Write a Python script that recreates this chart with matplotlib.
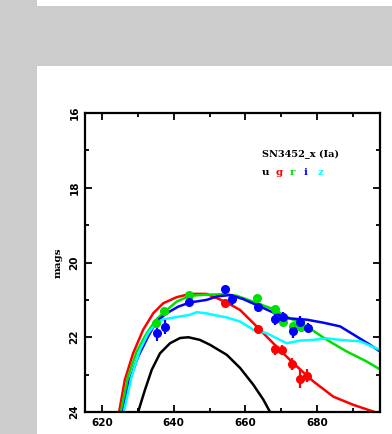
import matplotlib
matplotlib.use("Agg")
import matplotlib.pyplot as plt
from matplotlib.patches import Rectangle
from matplotlib.ticker import MultipleLocator

# model light curves (days, mags)
u_days = [630.1, 632.0, 633.9, 636.2, 639.0, 641.8, 644.1, 647.3, 650.1, 654.8, 658.5, 662.2,
          665.0, 666.8]
u_mags = [24.0, 23.41, 22.87, 22.43, 22.16, 22.02, 22.00, 22.07, 22.20, 22.47, 22.82, 23.27,
          23.67, 23.99]

g_days = [624.8, 626.4, 628.7, 631.5, 634.3, 637.1, 640.8, 644.5, 649.2, 651.0, 654.8, 658.5,
          662.2, 665.9, 669.6, 673.3, 678.9, 684.5, 690.1, 695.7]
g_mags = [24.0, 23.14, 22.43, 21.80, 21.36, 21.09, 20.93, 20.84, 20.84, 20.91, 21.07, 21.27,
          21.62, 21.98, 22.34, 22.69, 23.18, 23.59, 23.81, 23.99]

r_days = [625.3, 627.3, 629.7, 632.5, 635.2, 637.6, 640.8, 644.5, 649.2, 653.8, 657.6, 662.2,
          667.8, 671.5, 677.1, 682.7, 688.2, 693.8, 697.5]
r_mags = [24.0, 23.05, 22.38, 21.89, 21.52, 21.31, 21.05, 20.89, 20.86, 20.85, 20.89, 21.05,
          21.25, 21.45, 21.71, 22.07, 22.38, 22.65, 22.86]

i_days = [625.9, 627.8, 630.1, 632.9, 635.2, 638.0, 641.3, 644.5, 649.2, 652.0, 655.7, 659.4,
          664.1, 667.8, 671.5, 677.1, 681.7, 686.4, 691.0, 694.7, 697.5]
i_mags = [24.0, 23.14, 22.52, 21.98, 21.58, 21.36, 21.18, 21.07, 21.00, 20.91, 20.87, 20.98,
          21.18, 21.34, 21.49, 21.53, 21.61, 21.71, 21.98, 22.20, 22.38]

z_days = [626.1, 628.3, 630.6, 632.9, 635.2, 637.1, 640.8, 644.5, 646.4, 649.2, 651.0, 654.8,
          658.5, 662.2, 665.9, 669.6, 671.5, 675.2, 678.9, 682.7, 686.4, 692.0, 697.5]
z_mags = [24.0, 23.05, 22.34, 21.89, 21.61, 21.52, 21.46, 21.40, 21.33, 21.36, 21.40, 21.47,
          21.58, 21.80, 21.89, 22.07, 22.16, 22.09, 22.07, 22.03, 22.07, 22.11, 22.34]

# observed photometry
g_obs_days = [654.3, 663.4, 668.2, 670.3, 673.1, 675.2, 677.2]
g_obs_mags = [21.09, 21.79, 22.32, 22.34, 22.72, 23.12, 23.03]
g_obs_err = [0.08, 0.10, 0.15, 0.12, 0.16, 0.25, 0.18]

r_obs_days = [635.1, 637.3, 644.3, 663.3, 668.2, 670.4, 673.3, 675.4]
r_obs_mags = [21.63, 21.31, 20.87, 20.95, 21.25, 21.60, 21.71, 21.73]
r_obs_err = [0.08, 0.08, 0.05, 0.06, 0.08, 0.10, 0.12, 0.12]

i_obs_days = [635.4, 637.6, 644.3, 654.4, 656.4, 663.4, 668.2, 670.6, 673.3, 675.2, 677.4]
i_obs_mags = [21.89, 21.73, 21.06, 20.71, 20.98, 21.20, 21.52, 21.45, 21.83, 21.58, 21.74]
i_obs_err = [0.20, 0.18, 0.06, 0.06, 0.15, 0.08, 0.15, 0.12, 0.18, 0.15, 0.12]

band_names = ["u", "g", "r", "i", "z"]
band_colors = ["black", "red", "#00e000", "blue", "cyan"]

fig = plt.figure(figsize=(3.92, 4.34), dpi=100)
fig.patch.set_facecolor("#cccccc")
fig.add_artist(Rectangle((37 / 392, 0), 1, 368 / 434, transform=fig.transFigure,
                         facecolor="white", edgecolor="none", zorder=0))
fig.add_artist(Rectangle((37 / 392, 428 / 434), 1, 6 / 434, transform=fig.transFigure,
                         facecolor="white", edgecolor="none", zorder=0))

ax = fig.add_axes([85 / 392, 22 / 434, 295 / 392, 299 / 434])
ax.set_facecolor("white")

models = [(u_days, u_mags), (g_days, g_mags), (r_days, r_mags), (i_days, i_mags), (z_days, z_mags)]
for (d, m), c in zip(models, band_colors):
    ax.plot(d, m, color=c, lw=1.8, zorder=2, solid_joinstyle="round")

for d, m, e, c in [(g_obs_days, g_obs_mags, g_obs_err, band_colors[1]),
                   (r_obs_days, r_obs_mags, r_obs_err, band_colors[2]),
                   (i_obs_days, i_obs_mags, i_obs_err, band_colors[3])]:
    ax.errorbar(d, m, yerr=e, fmt="o", color=c, ms=5.5, elinewidth=1.6,
                capsize=0, zorder=3)

ax.set_xlim(615.3, 697.5)
ax.set_ylim(24, 16)
ax.xaxis.set_major_locator(MultipleLocator(20))
ax.xaxis.set_minor_locator(MultipleLocator(10))
ax.yaxis.set_major_locator(MultipleLocator(2))
ax.yaxis.set_minor_locator(MultipleLocator(1))
ax.tick_params(which="both", direction="in", top=True, right=True, width=1.3)
ax.tick_params(which="major", length=5, labelsize=7.5, pad=4)
ax.tick_params(which="minor", length=3)
for lab in ax.get_xticklabels() + ax.get_yticklabels():
    lab.set_fontweight("bold")
for lab in ax.get_yticklabels():
    lab.set_rotation(90)
    lab.set_va("center")
for s in ax.spines.values():
    s.set_linewidth(1.6)

ax.set_ylabel("mags", fontsize=7.5, fontweight="bold", family="DejaVu Serif", labelpad=5)

ax.text(664.5, 17.12, "SN3452_x (Ia)", fontsize=7, fontweight="bold",
        family="DejaVu Serif", va="center", ha="left")
for k, (name, c) in enumerate(zip(band_names, band_colors)):
    ax.text(664.5 + k * 3.9, 17.58, name, color=c, fontsize=7.5, fontweight="bold",
            family="DejaVu Serif", va="center", ha="left")

fig.savefig("out.png", dpi=100, facecolor=fig.get_facecolor())
